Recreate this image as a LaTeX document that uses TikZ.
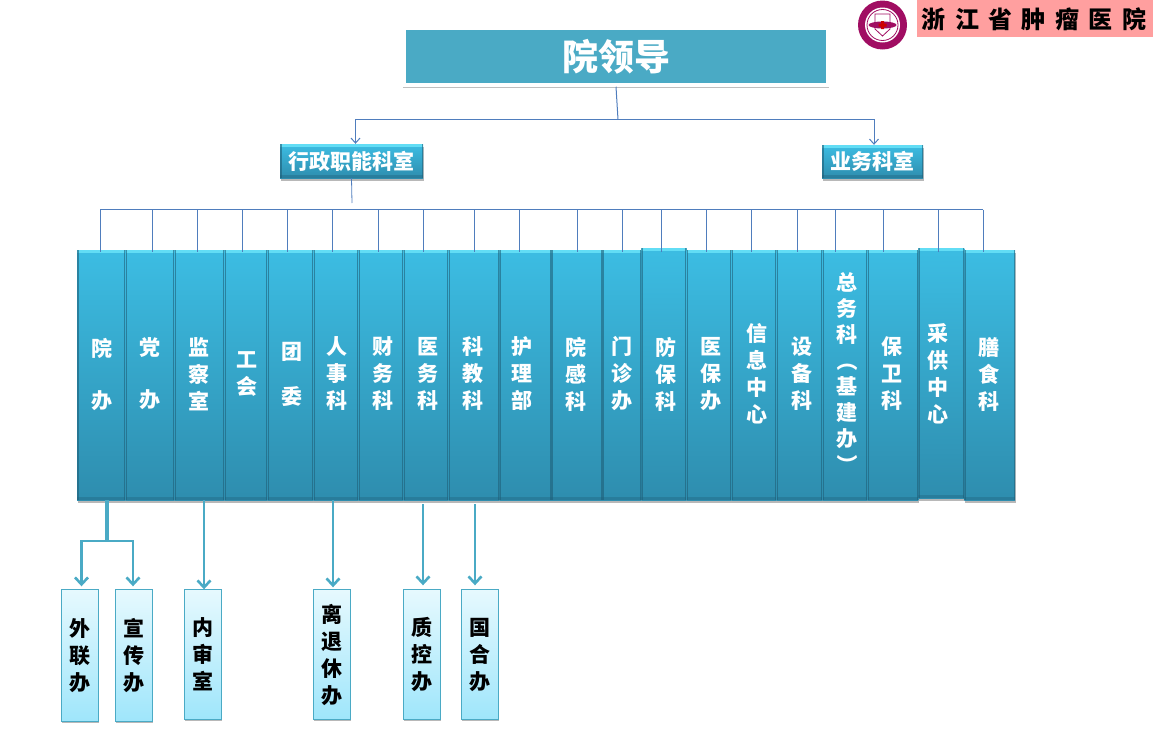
\documentclass[tikz,border=0pt]{standalone}
\usepackage{fontspec}
\usepackage{xcolor}
\usetikzlibrary{arrows.meta}
\setmainfont{Noto Sans CJK SC}
\definecolor{coltop}{HTML}{3CBDE3}
\definecolor{colbot}{HTML}{2E8DAE}
\definecolor{coledge}{HTML}{1F5F78}
\definecolor{colhigh}{HTML}{62DDF5}
\definecolor{leadfill}{HTML}{4AAAC5}
\definecolor{linkblue}{HTML}{4F7DBD}
\definecolor{subtop}{HTML}{E6F9FE}
\definecolor{subbot}{HTML}{9FE6FB}
\definecolor{bannerpink}{HTML}{FF9F9F}
\definecolor{logored}{HTML}{A00D62}
\newfontfamily\bannerfont[LetterSpace=39]{Noto Sans CJK SC}
\newcommand{\parenturn}[1]{\rotatebox[origin=c]{-90}{#1}}
\tikzset{
  softshade/.style={preaction={fill=black!28,transform canvas={xshift=0.6pt,yshift=-#1}}},
  colbox/.style={inner sep=0pt,align=center,text=white,top color=coltop,bottom color=colbot,
    font=\fontsize{21}{27}\selectfont\bfseries,softshade=2.5pt,
    path picture={
      \fill[colhigh] (path picture bounding box.north west) rectangle ([yshift=-3pt]path picture bounding box.north east);
      \fill[coledge,opacity=.35] (path picture bounding box.south west) rectangle ([yshift=3pt]path picture bounding box.south east);
      \fill[coledge,opacity=.6] (path picture bounding box.south west) rectangle ([xshift=1.5pt]path picture bounding box.north west);
      \fill[coledge,opacity=.6] (path picture bounding box.south east) rectangle ([xshift=-1.5pt]path picture bounding box.north east);
    }},
  coltext/.style={inner sep=0pt,align=center,text=white,font=\fontsize{21}{27}\selectfont\bfseries},
  subbox/.style={inner sep=0pt,align=center,text=black,top color=subtop,bottom color=subbot,
    draw=leadfill,line width=1pt,font=\fontsize{21}{27}\selectfont\bfseries,softshade=2pt},
  blink/.style={linkblue,line width=1pt},
  tlink/.style={leadfill,line width=2.6pt,-{Straight Barb[length=7pt,width=13pt,line width=2.6pt]}},
}
\begin{document}
\begin{tikzpicture}[x=1pt,y=-1pt]
\useasboundingbox (0,0) rectangle (1153,728);
% banner and logo
\fill[bannerpink] (917,0) rectangle (1153,37);
\node (banner) at (1034,19) {\bannerfont\fontsize{24}{24}\selectfont\bfseries 浙江省肿瘤医院};
\fill[logored] (882.5,25) circle (24.5);
\fill[white] (882.5,25) circle (17.5);
\draw[logored,line width=0.8pt] (882.5,25) circle (15.5);
\draw[logored,line width=0.8pt] (875,14)--(875,29)--(882.5,36)--(890,29)--(890,14)--cycle;
\fill[logored] (882.5,25) ellipse (14 and 3.5);
\fill[red!80!black] (881,21)rectangle(884,29) (878.5,23.5)rectangle(886.5,26.5);
% top boxes
\node[inner sep=0pt,minimum width=423pt,minimum height=57pt,fill=leadfill,draw=white,line width=3.5pt,
  text=white,font=\fontsize{36}{36}\selectfont\bfseries,
  preaction={draw=black!25,line width=3.5pt,transform canvas={yshift=-1.5pt}}] (lingdao) at (616,56.5) {院领导};
\node[colbox,minimum width=143pt,minimum height=34pt] (xingzheng) at (351.5,161) {行政职能科室};
\node[colbox,minimum width=101pt,minimum height=33pt] (yewu) at (872.5,161.5) {业务科室};
\coordinate (split) at (618,119.5);
\draw[blink] (lingdao.south) -- (split);
\draw[blink,-{Straight Barb[length=5pt,width=9pt]}] (split) -| ([xshift=4pt]xingzheng.north);
\draw[blink,-{Straight Barb[length=5pt,width=9pt]}] (split) -| ([xshift=1.5pt]yewu.north);
\coordinate (stub) at (352,203);
\draw[blink,line width=0.8pt] (xingzheng.south) -- (stub);
% columns
\foreach \cname/\xa/\xb/\ya/\yb/\tx/\ctext in {
  yuanban/77/125.7/250/500/102/{院\\[25pt]办},
  dangban/125.7/174.7/250/500/150/{党\\[25pt]办},
  jiancha/174.7/224.7/250/500/199/{监\\察\\室},
  gonghui/224.7/267.7/250/500/247/{工\\会},
  tuanwei/267.7/313.7/250/500/292/{团\\[18pt]委},
  renshi/313.7/358.7/250/500/337/{人\\事\\科},
  caiwu/358.7/403.7/250/500/382.5/{财\\务\\科},
  yiwu/403.7/448.7/250/500/428/{医\\务\\科},
  kejiao/448.7/499.3/250/500/472.5/{科\\教\\科},
  huli/499.3/551.2/250/500/522/{护\\理\\部},
  yuangan/551.2/602/250/500/576/{院\\感\\科},
  menzhen/602/641.3/250/500/621.5/{门\\诊\\办},
  fangbao/641.3/686.7/248/500/666/{防\\保\\科},
  yibao/686.7/731.7/250/500/711/{医\\保\\办},
  xinxi/731.7/776.7/250/500/756.5/{信\\息\\中\\心},
  shebei/776.7/822.7/250/500/802/{设\\备\\科},
  zongwu/822.7/867.7/250/500/847/{总\\[-1pt]务\\[-1pt]科\\[-1pt]\parenturn{（}\\[-1pt]基\\[-1pt]建\\[-1pt]办\\[-1pt]\parenturn{）}},
  baowei/867.7/918.3/250/500/892/{保\\卫\\科},
  caigong/918.3/964.3/248/498/937.5/{采\\供\\中\\心},
  shanshi/964.3/1015/250/500/989/{膳\\食\\科}}
{
  \pgfmathsetmacro\cw{\xb-\xa}
  \pgfmathsetmacro\ch{\yb-\ya}
  \node[colbox,minimum width=\cw pt,minimum height=\ch pt] (\cname) at ({(\xa+\xb)/2},{(\ya+\yb)/2}) {};
  \node[coltext] (\cname text) at (\tx,374) {\ctext};
}
% bus and drops
\coordinate (busleft) at (100.3,209.5);
\coordinate (busright) at (983.3,209.5);
\draw[blink] (busleft) -- (busright);
\foreach \cname/\dx in {yuanban/100.3,dangban/152.3,jiancha/197.3,gonghui/242.3,tuanwei/287.3,
  renshi/332.3,caiwu/378.3,yiwu/423.3,kejiao/474.3,huli/519.3,yuangan/577.3,menzhen/622.3,
  fangbao/661.3,yibao/706.3,xinxi/751.3,shebei/797.3,zongwu/835.3,baowei/883.3,caigong/938.3,shanshi/983.3}
  \draw[blink] (\dx,209.5) -- (\dx,251.5);
% lower boxes
\foreach \sname/\sx/\sh/\stext in {
  wailian/80/131.5/{外\\联\\办},
  xuanchuan/134/131.5/{宣\\传\\办},
  neishen/203/129.5/{内\\审\\室},
  litui/332/129.5/{离\\退\\休\\办},
  zhikong/422/129.5/{质\\控\\办},
  guohe/480/129.5/{国\\合\\办}}
  \node[subbox,minimum width=37.5pt,minimum height=\sh pt,anchor=north] (\sname) at (\sx,589.3) {\stext};
\coordinate (trunk) at (106.5,500);
\coordinate (fork) at (106.5,541);
\draw[leadfill,line width=4pt] (trunk) -- (fork);
\draw[tlink,shorten >=3pt] (fork) -| ([xshift=1.5pt]wailian.north);
\draw[tlink,shorten >=3pt] (fork) -| ([xshift=-1pt]xuanchuan.north);
\coordinate (neishentop) at (204,500);
\coordinate (lituitop) at (333,500);
\coordinate (zhikongtop) at (423,504);
\coordinate (guohetop) at (475,504);
\draw[tlink] (neishentop) -- (neishentop |- neishen.north);
\draw[tlink,shorten >=2pt] (lituitop) -- (lituitop |- litui.north);
\draw[tlink,shorten >=4pt] (zhikongtop) -- (zhikongtop |- zhikong.north);
\draw[tlink,shorten >=4pt] (guohetop) -- (guohetop |- guohe.north);
\end{tikzpicture}
\end{document}
